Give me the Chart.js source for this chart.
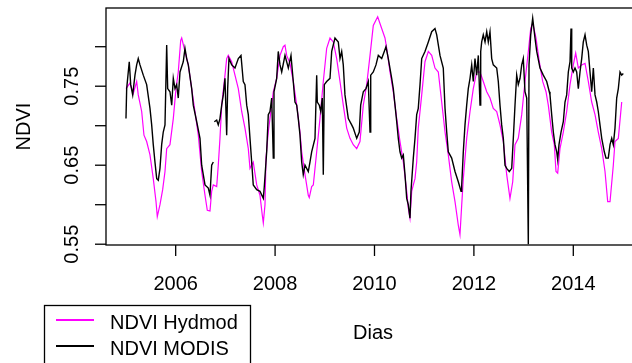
<!DOCTYPE html>
<html>
<head>
<meta charset="utf-8">
<script src="https://cdn.jsdelivr.net/npm/chart.js@4"></script>
<style>
  html, body { margin: 0; padding: 0; background: #fff; overflow: hidden; }
  #wrap { width: 650px; height: 363px; }
</style>
</head>
<body>
<div id="wrap"><canvas id="chart" width="650" height="363"></canvas></div>
<script>
// NDVI Hydmod (magenta)
const hydYears = [
  2005.000, 2005.080, 2005.147, 2005.215, 2005.247, 2005.316, 2005.362, 2005.416, 2005.483, 2005.549,
  2005.604, 2005.630, 2005.684, 2005.738, 2005.785, 2005.819, 2005.885, 2005.952, 2006.006, 2006.052,
  2006.101, 2006.121, 2006.187, 2006.254, 2006.322, 2006.388, 2006.455, 2006.523, 2006.590, 2006.636,
  2006.690, 2006.724, 2006.757, 2006.825, 2006.857, 2006.891, 2006.926, 2006.992, 2007.026, 2007.058,
  2007.127, 2007.193, 2007.260, 2007.328, 2007.394, 2007.461, 2007.495, 2007.561, 2007.630, 2007.696,
  2007.742, 2007.763, 2007.797, 2007.817, 2007.863, 2007.897, 2007.964, 2008.032, 2008.099, 2008.165,
  2008.199, 2008.233, 2008.300, 2008.366, 2008.435, 2008.501, 2008.535, 2008.602, 2008.668, 2008.688,
  2008.736, 2008.769, 2008.837, 2008.903, 2008.970, 2009.038, 2009.105, 2009.171, 2009.239, 2009.306,
  2009.372, 2009.441, 2009.507, 2009.573, 2009.642, 2009.708, 2009.775, 2009.843, 2009.910, 2009.976,
  2010.064, 2010.145, 2010.211, 2010.246, 2010.312, 2010.378, 2010.447, 2010.513, 2010.580, 2010.648,
  2010.680, 2010.714, 2010.749, 2010.781, 2010.815, 2010.849, 2010.881, 2010.950, 2011.016, 2011.083,
  2011.151, 2011.217, 2011.284, 2011.352, 2011.419, 2011.485, 2011.553, 2011.620, 2011.686, 2011.720,
  2011.755, 2011.787, 2011.855, 2011.922, 2011.988, 2012.056, 2012.123, 2012.189, 2012.258, 2012.324,
  2012.390, 2012.459, 2012.525, 2012.592, 2012.660, 2012.726, 2012.781, 2012.827, 2012.893, 2012.962,
  2013.028, 2013.095, 2013.143, 2013.183, 2013.250, 2013.316, 2013.384, 2013.451, 2013.497, 2013.565,
  2013.618, 2013.652, 2013.686, 2013.732, 2013.799, 2013.867, 2013.934, 2014.000, 2014.048, 2014.101,
  2014.169, 2014.236, 2014.302, 2014.370, 2014.437, 2014.503, 2014.572, 2014.638, 2014.692, 2014.739,
  2014.805, 2014.839, 2014.906, 2014.974
];
const hydNdvi = [
  0.747, 0.754, 0.741, 0.756, 0.739, 0.718, 0.688, 0.680, 0.663, 0.633,
  0.604, 0.585, 0.600, 0.619, 0.642, 0.671, 0.676, 0.709, 0.747, 0.768,
  0.808, 0.811, 0.794, 0.777, 0.747, 0.718, 0.688, 0.642, 0.612, 0.593,
  0.592, 0.617, 0.625, 0.623, 0.650, 0.684, 0.726, 0.764, 0.785, 0.789,
  0.781, 0.764, 0.747, 0.718, 0.697, 0.671, 0.646, 0.654, 0.625, 0.612,
  0.587, 0.577, 0.600, 0.659, 0.692, 0.709, 0.743, 0.760, 0.789, 0.800,
  0.802, 0.789, 0.779, 0.756, 0.726, 0.692, 0.667, 0.638, 0.612, 0.609,
  0.623, 0.625, 0.667, 0.709, 0.756, 0.798, 0.811, 0.806, 0.785, 0.756,
  0.726, 0.697, 0.684, 0.676, 0.671, 0.680, 0.726, 0.752, 0.789, 0.827,
  0.838, 0.823, 0.811, 0.798, 0.768, 0.743, 0.709, 0.680, 0.654, 0.617,
  0.596, 0.583, 0.617, 0.625, 0.633, 0.654, 0.697, 0.739, 0.781, 0.794,
  0.789, 0.773, 0.768, 0.730, 0.692, 0.663, 0.629, 0.604, 0.574, 0.562,
  0.600, 0.633, 0.684, 0.718, 0.747, 0.768, 0.768, 0.756, 0.743, 0.735,
  0.722, 0.718, 0.701, 0.680, 0.638, 0.608, 0.629, 0.676, 0.684, 0.714,
  0.756, 0.794, 0.823, 0.830, 0.811, 0.781, 0.756, 0.743, 0.726, 0.692,
  0.676, 0.642, 0.640, 0.671, 0.692, 0.718, 0.752, 0.777, 0.792, 0.773,
  0.777, 0.779, 0.756, 0.730, 0.714, 0.692, 0.671, 0.642, 0.604, 0.604,
  0.650, 0.680, 0.684, 0.730
];

// NDVI MODIS (black), null = missing data
const modisYears = [
  2005.000, 2005.014, 2005.046, 2005.066, 2005.095, 2005.135, 2005.181, 2005.215, 2005.247, 2005.282,
  2005.348, 2005.416, 2005.483, 2005.517, 2005.549, 2005.583, 2005.618, 2005.650, 2005.684, 2005.718,
  2005.750, 2005.785, 2005.819, 2005.839, 2005.885, 2005.920, 2005.952, 2005.986, 2006.020, 2006.052,
  2006.087, 2006.153, 2006.187, 2006.221, 2006.254, 2006.322, 2006.354, 2006.423, 2006.489, 2006.523,
  2006.590, 2006.656, 2006.690, 2006.724, 2006.757, 2006.767, 2006.777, 2006.825, 2006.857, 2006.891,
  2006.926, 2006.958, 2006.992, 2007.026, 2007.046, 2007.072, 2007.127, 2007.193, 2007.260, 2007.314,
  2007.360, 2007.394, 2007.429, 2007.461, 2007.495, 2007.529, 2007.561, 2007.630, 2007.696, 2007.763,
  2007.783, 2007.831, 2007.863, 2007.897, 2007.932, 2007.964, 2007.978, 2008.032, 2008.064, 2008.099,
  2008.133, 2008.199, 2008.266, 2008.320, 2008.366, 2008.400, 2008.435, 2008.467, 2008.501, 2008.535,
  2008.567, 2008.602, 2008.668, 2008.702, 2008.736, 2008.803, 2008.837, 2008.849, 2008.889, 2008.918,
  2008.950, 2008.970, 2008.990, 2009.038, 2009.105, 2009.139, 2009.205, 2009.272, 2009.306, 2009.340,
  2009.372, 2009.406, 2009.473, 2009.541, 2009.573, 2009.642, 2009.694, 2009.722, 2009.775, 2009.829,
  2009.875, 2009.910, 2009.924, 2009.976, 2010.030, 2010.077, 2010.145, 2010.197, 2010.231, 2010.278,
  2010.346, 2010.378, 2010.413, 2010.447, 2010.479, 2010.513, 2010.547, 2010.580, 2010.614, 2010.648,
  2010.680, 2010.714, 2010.734, 2010.781, 2010.815, 2010.849, 2010.881, 2010.916, 2010.950, 2011.016,
  2011.083, 2011.151, 2011.217, 2011.252, 2011.318, 2011.384, 2011.419, 2011.453, 2011.485, 2011.553,
  2011.620, 2011.686, 2011.741, 2011.755, 2011.787, 2011.821, 2011.855, 2011.887, 2011.922, 2011.956,
  2011.988, 2012.022, 2012.056, 2012.089, 2012.123, 2012.137, 2012.157, 2012.189, 2012.224, 2012.258,
  2012.290, 2012.324, 2012.358, 2012.390, 2012.459, 2012.491, 2012.525, 2012.559, 2012.592, 2012.626,
  2012.660, 2012.712, 2012.761, 2012.793, 2012.827, 2012.861, 2012.893, 2012.928, 2012.962, 2012.994,
  2013.028, 2013.063, 2013.095, 2013.109, 2013.143, 2013.183, 2013.229, 2013.264, 2013.330, 2013.396,
  2013.465, 2013.517, 2013.531, 2013.565, 2013.598, 2013.632, 2013.666, 2013.686, 2013.712, 2013.753,
  2013.799, 2013.833, 2013.867, 2013.900, 2013.934, 2013.954, 2013.968, 2014.000, 2014.034, 2014.068,
  2014.101, 2014.135, 2014.169, 2014.201, 2014.236, 2014.270, 2014.302, 2014.336, 2014.370, 2014.403,
  2014.437, 2014.471, 2014.503, 2014.537, 2014.572, 2014.624, 2014.658, 2014.704, 2014.739, 2014.773,
  2014.805, 2014.839, 2014.873, 2014.906, 2014.940, 2014.974, 2015.006
];
const modisNdvi = [
  0.709, 0.747, 0.768, 0.781, 0.752, 0.739, 0.764, 0.777, 0.785, 0.777,
  0.764, 0.752, 0.722, 0.701, 0.676, 0.654, 0.633, 0.631, 0.646, 0.676,
  0.692, 0.701, 0.802, 0.747, 0.743, 0.726, 0.760, 0.747, 0.752, 0.735,
  0.768, 0.781, 0.798, 0.785, 0.777, 0.747, 0.726, 0.705, 0.684, 0.650,
  0.625, 0.621, 0.612, 0.650, 0.654, null,  0.705, 0.707, 0.701, 0.709,
  0.726, 0.739, 0.760, 0.688, 0.747, 0.785, 0.777, 0.773, 0.785, 0.789,
  0.756, 0.752, 0.726, 0.714, 0.684, 0.654, 0.625, 0.619, 0.617, 0.608,
  0.623, 0.667, 0.714, 0.718, 0.735, 0.659, 0.743, 0.760, 0.794, 0.777,
  0.768, 0.789, 0.773, 0.789, 0.756, 0.730, 0.726, 0.709, 0.688, 0.654,
  0.638, 0.650, 0.642, 0.654, 0.667, 0.684, 0.764, 0.730, 0.726, 0.718,
  0.735, 0.638, 0.752, 0.756, 0.760, 0.794, 0.811, 0.806, 0.785, 0.794,
  0.777, 0.739, 0.709, 0.701, 0.697, 0.684, 0.692, 0.726, 0.743, 0.747,
  0.756, 0.692, 0.764, 0.768, 0.777, 0.789, 0.785, 0.794, 0.800, 0.785,
  0.760, 0.747, 0.726, 0.705, 0.684, 0.667, 0.659, 0.663, 0.638, 0.608,
  0.600, 0.583, 0.617, 0.659, 0.684, 0.714, 0.722, 0.752, 0.785, 0.794,
  0.806, 0.819, 0.823, 0.815, 0.789, 0.773, 0.722, 0.692, 0.667, 0.659,
  0.642, 0.629, 0.617, 0.625, 0.667, 0.701, 0.726, 0.747, 0.760, 0.777,
  0.756, 0.785, 0.764, 0.789, 0.726, 0.794, 0.806, 0.815, 0.806, 0.819,
  0.806, 0.819, 0.785, 0.777, 0.773, 0.756, 0.726, 0.701, 0.684, 0.650,
  0.646, 0.642, 0.646, 0.684, 0.726, 0.764, 0.752, 0.760, 0.777, 0.785,
  0.743, 0.735, 0.550, 0.777, 0.815, 0.836, 0.811, 0.794, 0.773, 0.764,
  0.756, 0.743, 0.739, 0.714, 0.692, 0.676, 0.667, 0.657, 0.676, 0.692,
  0.705, 0.730, 0.739, 0.768, 0.781, 0.823, 0.773, 0.768, 0.773, 0.768,
  0.747, 0.768, 0.785, 0.806, 0.815, 0.802, 0.794, 0.768, 0.743, 0.773,
  0.739, 0.730, 0.718, 0.701, 0.684, 0.667, 0.659, 0.659, 0.676, 0.684,
  0.676, 0.697, 0.735, 0.747, 0.768, 0.764, 0.766
];

const xTicks = [2006, 2008, 2010, 2012, 2014];
const yTicks = [0.55, 0.60, 0.65, 0.70, 0.75, 0.80];
const yTickLabels = ['0.55', '', '0.65', '', '0.75', ''];

const FONT = '20px "Liberation Sans", Arial, sans-serif';

function toPoints(xs, ys) {
  return xs.map((x, i) => ({ x: x, y: ys[i] }));
}

// R-style box, ticks, labels and legend
const rAxes = {
  id: 'rAxes',
  afterDraw(chart) {
    const { ctx, chartArea: a, scales } = chart;
    const xs = scales.x, ys = scales.y;
    ctx.save();
    ctx.strokeStyle = '#000';
    ctx.fillStyle = '#000';
    ctx.lineWidth = 1.3;
    ctx.font = FONT;

    ctx.strokeRect(a.left, a.top, a.right - a.left, a.bottom - a.top);

    ctx.textAlign = 'center';
    ctx.textBaseline = 'alphabetic';
    xTicks.forEach(t => {
      const px = xs.getPixelForValue(t);
      ctx.beginPath();
      ctx.moveTo(px, a.bottom);
      ctx.lineTo(px, a.bottom + 11);
      ctx.stroke();
      ctx.fillText(String(t), px, 290);
    });

    yTicks.forEach((t, i) => {
      const py = ys.getPixelForValue(t);
      ctx.beginPath();
      ctx.moveTo(a.left - 11, py);
      ctx.lineTo(a.left, py);
      ctx.stroke();
      if (yTickLabels[i]) {
        ctx.save();
        ctx.translate(78, py);
        ctx.rotate(-Math.PI / 2);
        ctx.fillText(yTickLabels[i], 0, 0);
        ctx.restore();
      }
    });

    // axis titles
    ctx.save();
    ctx.translate(30, (a.top + a.bottom) / 2);
    ctx.rotate(-Math.PI / 2);
    ctx.fillText('NDVI', 0, 0);
    ctx.restore();
    ctx.fillText('Dias', 373, 339);

    // legend
    ctx.lineWidth = 1.3;
    ctx.strokeRect(44.5, 305.5, 206, 80);
    const items = [chart.data.datasets[0], chart.data.datasets[1]];
    const rows = [320, 346];
    ctx.textAlign = 'left';
    items.forEach((ds, i) => {
      ctx.strokeStyle = ds.borderColor;
      ctx.lineWidth = 2;
      ctx.beginPath();
      ctx.moveTo(56, rows[i]);
      ctx.lineTo(94, rows[i]);
      ctx.stroke();
      ctx.fillText(ds.label, 110, rows[i] + 9);
    });
    ctx.restore();
  }
};

new Chart(document.getElementById('chart'), {
  type: 'line',
  data: {
    datasets: [
      {
        label: 'NDVI Hydmod',
        data: toPoints(hydYears, hydNdvi),
        borderColor: '#ff00ff',
        borderWidth: 1.2,
        pointRadius: 0,
        tension: 0,
        fill: false,
        order: 2
      },
      {
        label: 'NDVI MODIS',
        data: toPoints(modisYears, modisNdvi),
        borderColor: '#000000',
        borderWidth: 1.4,
        pointRadius: 0,
        tension: 0,
        fill: false,
        spanGaps: false,
        order: 1
      }
    ]
  },
  options: {
    responsive: false,
    animation: false,
    devicePixelRatio: 1,
    layout: { padding: { top: 8, right: 10, left: 0, bottom: 0 } },
    plugins: {
      legend: { display: false },
      tooltip: { enabled: false }
    },
    scales: {
      x: {
        type: 'linear',
        min: 2004.598,
        max: 2015.342,
        grid: { display: false },
        border: { display: false },
        ticks: { display: false },
        afterFit: s => { s.height = 118; }
      },
      y: {
        type: 'linear',
        min: 0.549,
        max: 0.849,
        grid: { display: false },
        border: { display: false },
        ticks: { display: false },
        afterFit: s => { s.width = 106; }
      }
    }
  },
  plugins: [rAxes]
});
</script>
</body>
</html>
